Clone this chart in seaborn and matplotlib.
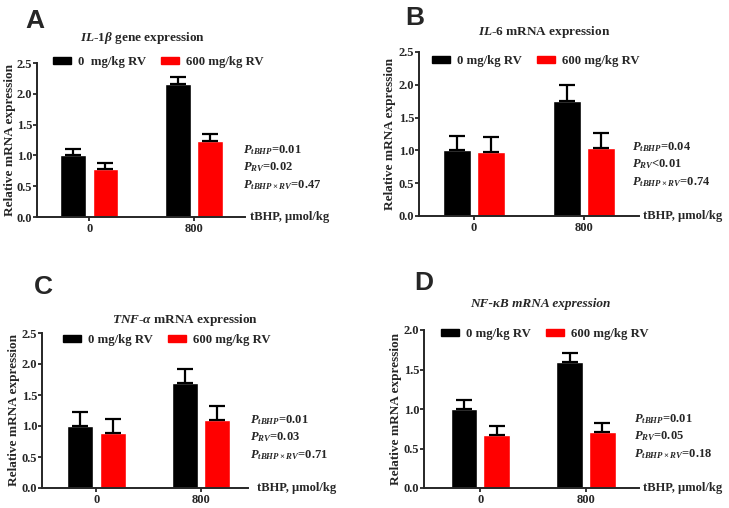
import matplotlib

matplotlib.use("Agg")
import matplotlib.pyplot as plt
import matplotlib.patches as mpatches
from matplotlib.ticker import FormatStrFormatter
import numpy as np
import pandas as pd
import seaborn as sns

# ─────────────────────────────────────────────
# data
# ─────────────────────────────────────────────
doses = ["0", "800"]
groups = ["0 mg/kg RV", "600 mg/kg RV"]

il1b_ctrl = [1.00, 2.16]
il1b_rv = [0.78, 1.24]
il1b_ctrl_se = [0.11, 0.12]
il1b_rv_se = [0.10, 0.11]

il6_ctrl = [1.00, 1.76]
il6_rv = [0.98, 1.04]
il6_ctrl_se = [0.22, 0.24]
il6_rv_se = [0.22, 0.22]

tnf_ctrl = [1.00, 1.69]
tnf_rv = [0.89, 1.09]
tnf_ctrl_se = [0.23, 0.23]
tnf_rv_se = [0.23, 0.23]

nfkb_ctrl = [1.00, 1.60]
nfkb_rv = [0.67, 0.71]
nfkb_ctrl_se = [0.11, 0.11]
nfkb_rv_se = [0.11, 0.11]

p_il1b = ["0.01", "0.02", "0.47"]
p_il6 = ["0.04", "<0.01", "0.74"]
p_tnf = ["0.01", "0.03", "0.71"]
p_nfkb = ["0.01", "0.05", "0.18"]

# ─────────────────────────────────────────────
# style
# ─────────────────────────────────────────────
sns.set_style("ticks")
plt.rcParams["font.family"] = ["Liberation Serif", "DejaVu Serif"]
plt.rcParams["font.weight"] = "bold"
plt.rcParams["mathtext.fontset"] = "custom"
plt.rcParams["mathtext.rm"] = "Liberation Serif:bold"
plt.rcParams["mathtext.bf"] = "Liberation Serif:bold"
plt.rcParams["mathtext.it"] = "Liberation Serif:italic:bold"

W, H = 729, 508
palette = {groups[0]: "black", groups[1]: "#ff0000"}

fig = plt.figure(figsize=(W / 100, H / 100), dpi=100)


def px(x, y):
    return x / W, 1 - y / H


def panel(box, xlim, ylim, ctrl, rv, ctrl_se, rv_se, title, title_pos,
          leg_pos, ptexts, p_pos, xlab_pos, letter, letter_pos, ctrl_label,
          ylab_x):
    left, top, right, bottom = box
    ax = fig.add_axes([left / W, 1 - bottom / H, (right - left) / W,
                       (bottom - top) / H])
    df = pd.DataFrame({
        "dose": doses * 2,
        "group": [groups[0]] * 2 + [groups[1]] * 2,
        "value": list(ctrl) + list(rv),
    })
    sns.barplot(data=df, x="dose", y="value", hue="group", order=doses,
                hue_order=groups, palette=palette, width=0.62, gap=0.2,
                saturation=1, errorbar=None, legend=False, ax=ax)
    for cont, means, se in zip(ax.containers, [ctrl, rv], [ctrl_se, rv_se]):
        xs = [b.get_x() + b.get_width() / 2 for b in cont]
        ax.errorbar(xs, means, yerr=[np.zeros(len(se)), se], fmt="none",
                    ecolor="black", elinewidth=1.6, capsize=5.5,
                    capthick=1.6, zorder=1)

    ax.set_xlim(*xlim)
    ax.set_ylim(*ylim)
    ax.set_yticks(np.arange(0, ylim[1] + 0.01, 0.5))
    ax.yaxis.set_major_formatter(FormatStrFormatter("%.1f"))
    sns.despine(ax=ax)
    for s in ["left", "bottom"]:
        ax.spines[s].set_linewidth(1.4)
    ax.tick_params(axis="both", length=3, width=1.3, labelsize=9,
                   direction="out", pad=1.5)
    ax.tick_params(axis="y", pad=0.5)
    ax.set_xlabel("")
    ax.set_ylabel("")
    fig.text(*px(ylab_x, (top + bottom) / 2), "Relative mRNA expression",
             rotation=90, ha="center", va="center", fontsize=9.5,
             fontweight="bold")

    handles = [mpatches.Patch(color="black", label=ctrl_label),
               mpatches.Patch(color="#ff0000", label=groups[1])]
    ax.legend(handles=handles, ncol=2, frameon=False, loc="center left",
              bbox_to_anchor=px(*leg_pos), bbox_transform=fig.transFigure,
              borderpad=0, borderaxespad=0, handlelength=1.4,
              handleheight=0.45, handletextpad=0.55, columnspacing=1.2,
              prop={"size": 9.2, "weight": "bold"})

    fig.text(*px(*title_pos), title, ha="center", va="center", fontsize=9.5,
             fontweight="bold",
             fontstyle="italic" if letter == "D" else "normal")
    labels = [r"$P_{tBHP}$=", r"$P_{RV}$=", r"$P_{tBHP\times RV}$="]
    for i, (lab, val) in enumerate(zip(labels, ptexts)):
        if val.startswith("<"):
            lab = lab.rstrip("=")
        fig.text(*px(p_pos[0], p_pos[1] + i * 17.5), lab + val, ha="left",
                 va="center", fontsize=9, fontweight="bold")
    fig.text(*px(*xlab_pos), "tBHP, µmol/kg", ha="left", va="center",
             fontsize=9, fontweight="bold")
    fig.text(*px(*letter_pos), letter, ha="left", va="baseline",
             fontsize=19, fontweight="bold", family="Liberation Sans")
    return ax


panel((37, 63, 245, 217), (-0.5, 1.49), (0, 2.5),
      il1b_ctrl, il1b_rv, il1b_ctrl_se, il1b_rv_se,
      r"$IL$-$\mathit{1\beta}$ gene expression", (143, 38),
      (53, 62), p_il1b, (243, 150), (250, 217), "A", (25, 28),
      "0  mg/kg RV", 10)

panel((419, 52, 639, 216), (-0.5, 1.5), (0, 2.5),
      il6_ctrl, il6_rv, il6_ctrl_se, il6_rv_se,
      r"$IL$-$\mathit{6}$ mRNA expression", (544, 32),
      (432, 61), p_il6, (632, 147), (643, 216), "B", (405, 25),
      groups[0], 390)

panel((42, 333, 248, 488), (-0.52, 1.45), (0, 2.5),
      tnf_ctrl, tnf_rv, tnf_ctrl_se, tnf_rv_se,
      r"$TNF$-$\alpha$ mRNA expression", (185, 320),
      (63, 340), p_tnf, (250, 420), (257, 488), "C", (34, 294),
      groups[0], 14)

panel((424, 330, 639, 488), (-0.53, 1.5), (0, 2.0),
      nfkb_ctrl, nfkb_rv, nfkb_ctrl_se, nfkb_rv_se,
      "NF-κB mRNA expression", (540, 304),
      (441, 334), p_nfkb, (634, 419), (643, 488), "D", (414, 290),
      groups[0], 396)

fig.savefig("out.png", dpi=100)
